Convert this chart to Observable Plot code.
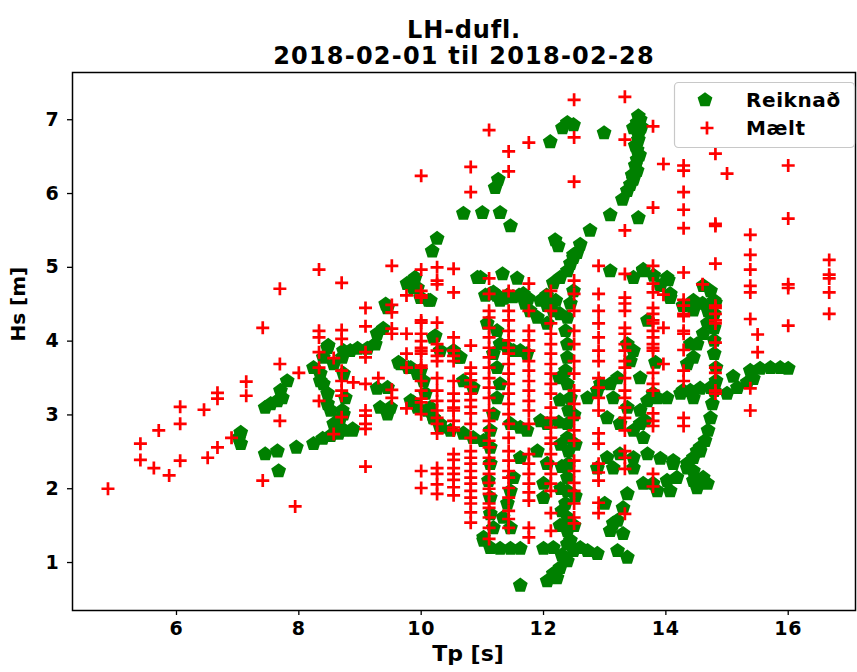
<!DOCTYPE html>
<html>
<head>
<meta charset="utf-8">
<script src="https://cdn.jsdelivr.net/npm/d3@7"></script>
<script src="https://cdn.jsdelivr.net/npm/@observablehq/plot@0.6"></script>
<style>
  html, body { margin: 0; padding: 0; background: #fff; }
  #chart svg { display: block; }
</style>
</head>
<body>
<div id="chart"></div>
<script>
// ---- Text ----
const titleLines = ["LH-dufl.", "2018-02-01 til 2018-02-28"];
const xLabel = "Tp [s]";
const yLabel = "Hs [m]";
const seriesNames = ["Reiknað", "Mælt"];
const xTicks = [6, 8, 10, 12, 14, 16];
const yTicks = [1, 2, 3, 4, 5, 6, 7];

// ---- Mælt (measured): Tp columns with their Hs values ----
const maeltColumns = [
  [4.88, [2.00]],
  [5.41, [2.61, 2.39]],
  [5.63, [2.28]],
  [5.71, [2.79]],
  [5.88, [2.18]],
  [6.06, [3.11, 2.88, 2.38]],
  [6.45, [3.07]],
  [6.51, [2.42]],
  [6.67, [3.30, 3.22, 2.56]],
  [6.90, [2.69]],
  [7.14, [3.26, 3.45]],
  [7.41, [4.18, 2.11]],
  [7.69, [4.71, 3.69, 2.92]],
  [7.94, [1.76]],
  [8.00, [3.57]],
  [8.33, [4.97, 4.14, 4.05, 3.85, 3.64, 3.19]],
  [8.57, [2.74, 3.77]],
  [8.70, [4.79, 4.15, 4.03, 3.60, 3.46, 3.33, 3.26, 2.97]],
  [8.89, [3.44]],
  [9.09, [4.45, 4.20, 3.85, 3.78, 3.42, 3.06, 2.99, 2.88, 2.81, 2.30]],
  [9.30, [3.50]],
  [9.52, [5.02, 4.49, 4.39, 4.17, 4.10, 3.34, 3.23]],
  [9.76, [4.62, 4.10, 3.83, 3.64, 3.09]],
  [10.00, [6.24, 4.97, 4.68, 4.62, 4.59, 4.28, 4.25, 4.10, 4.00, 3.91, 3.87, 3.83, 3.67, 3.64, 3.46, 3.33, 3.22, 3.17, 3.01, 2.24, 2.01]],
  [10.26, [5.00, 4.82, 4.77, 4.25, 3.96, 3.87, 3.80, 3.73, 3.50, 3.33, 3.19, 3.06, 2.96, 2.88, 2.75, 2.28, 2.20, 2.06, 1.93]],
  [10.53, [4.98, 4.66, 4.05, 3.87, 3.80, 3.73, 3.46, 3.29, 3.19, 3.10, 3.06, 2.92, 2.83, 2.79, 2.47, 2.39, 2.28, 2.20, 2.12, 2.02, 1.91]],
  [10.81, [6.36, 6.02, 3.94, 3.64, 3.56, 3.47, 3.38, 3.29, 3.20, 3.11, 3.02, 2.88, 2.69, 2.51, 2.42, 2.34, 2.24, 2.15, 2.07, 1.97, 1.88, 1.80, 1.68, 1.54]],
  [11.11, [6.86, 4.85, 4.64, 4.41, 4.32, 4.18, 4.05, 3.91, 3.78, 3.64, 3.50, 3.37, 3.23, 3.06, 2.92, 2.79, 2.65, 2.56, 2.42, 2.34, 2.20, 2.08, 2.00, 1.93, 1.80, 1.74, 1.61, 1.47, 1.32]],
  [11.43, [6.57, 6.30, 4.68, 4.41, 4.28, 4.14, 4.01, 3.91, 3.83, 3.69, 3.56, 3.42, 3.29, 3.15, 3.01, 2.88, 2.69, 2.51, 2.38, 2.24, 2.15, 2.01, 1.88, 1.70, 1.59, 1.47]],
  [11.76, [6.69, 4.78, 4.41, 4.14, 4.01, 3.87, 3.73, 3.60, 3.46, 3.33, 3.19, 3.06, 2.88, 2.47, 2.34, 2.20, 2.07, 1.95, 1.84, 1.47, 1.34]],
  [12.12, [4.68, 4.41, 4.24, 4.10, 3.96, 3.83, 3.69, 3.56, 3.42, 3.29, 3.10, 2.96, 2.83, 2.69, 2.61, 2.47, 2.34, 2.20, 2.07, 1.97, 1.67, 1.43]],
  [12.50, [7.27, 6.76, 6.16, 4.82, 4.64, 4.41, 4.14, 3.96, 3.73, 3.56, 3.33, 3.15, 2.96, 2.79, 2.65, 2.38, 2.24, 2.08, 1.97, 1.80, 1.61, 1.53]],
  [12.90, [5.02, 4.64, 4.41, 4.24, 4.05, 3.87, 3.73, 3.50, 3.37, 3.23, 3.06, 2.75, 2.61, 2.34, 2.22, 2.11, 1.81, 1.67]],
  [13.33, [7.31, 6.73, 5.50, 4.91, 4.59, 4.51, 4.41, 4.18, 4.10, 3.96, 3.87, 3.73, 3.64, 3.50, 3.33, 3.23, 3.10, 2.96, 2.79, 2.51, 2.42, 2.27, 1.66]],
  [13.79, [6.91, 5.81, 5.02, 4.78, 4.66, 4.45, 4.37, 4.28, 4.24, 4.14, 4.05, 3.96, 3.91, 3.87, 3.57, 3.42, 3.33, 3.02, 2.92, 2.85, 2.20, 2.03]],
  [13.96, [6.40, 4.63, 4.18, 3.69]],
  [14.29, [6.38, 6.31, 6.02, 5.78, 5.53, 4.93, 4.56, 4.48, 4.37, 4.34, 4.14, 4.10, 3.88, 3.60, 3.46, 2.96, 2.85]],
  [14.60, [4.77]],
  [14.81, [6.54, 5.59, 5.56, 5.05, 4.48, 4.45, 4.37, 4.28, 4.24, 3.98, 3.64, 3.57, 3.33, 3.29]],
  [15.00, [6.27]],
  [15.38, [5.44, 5.17, 4.97, 4.75, 4.66, 4.30, 3.36, 3.06]],
  [15.50, [4.09, 3.85]],
  [16.00, [6.38, 5.66, 4.77, 4.72, 4.21]],
  [16.67, [5.10, 4.90, 4.85, 4.66, 4.37]]
];

// ---- Reiknað (computed): [Tp, Hs] ----
const reiknadPoints = [
  [7.05,2.76],[7.05,2.61],[7.02,2.69],[7.45,2.47],[7.65,2.51],[7.67,2.24],[7.96,2.56],
  [8.24,2.61],[8.39,2.68],[8.52,2.72],[8.65,2.75],[8.73,2.79],[8.88,2.79],[8.60,2.88],[8.68,2.96],[8.71,3.06],
  [7.45,3.10],[7.54,3.15],[7.65,3.19],[7.73,3.23],[7.70,3.33],[7.81,3.46],
  [8.47,3.91],[8.40,3.78],[8.24,3.64],[8.35,3.56],[8.40,3.42],[8.47,3.29],[8.47,3.15],[8.52,3.06],
  [8.57,3.69],[8.73,3.87],[8.84,3.87],[8.96,3.90],[8.73,3.56],[8.76,3.23],[8.48,3.94],[8.35,3.46],
  [8.71,3.78],[9.12,3.90],[9.25,3.96],[9.28,4.10],[9.38,4.17],[9.42,4.50],[9.45,4.45],[9.90,4.86],[9.94,4.72],
  [10.12,4.55],[10.18,5.22],[10.26,5.39],[10.69,5.73],[10.92,4.86],[10.23,4.07],
  [9.63,3.71],[9.79,3.64],[9.94,3.56],[10.04,3.46],[9.28,3.36],[9.45,3.37],[9.33,3.10],[9.50,3.10],
  [9.45,3.01],[9.87,3.17],[8.57,2.88],[8.73,3.01],[8.71,2.81],[8.88,2.81],
  [10.07,3.29],[10.15,3.10],[10.20,2.96],[10.31,2.83],[10.64,3.78],[10.69,3.46],[10.85,3.37],
  [12.39,6.96],[12.31,6.89],[12.49,6.93],[12.11,6.70],[12.99,6.82],
  [13.55,7.05],[13.53,6.96],[13.55,6.86],[13.47,6.89],[13.55,6.80],[13.55,6.73],[13.53,6.59],[13.53,6.46],
  [13.50,6.38],[13.53,6.31],[13.47,6.19],[13.37,6.04],[13.29,5.92],[13.09,5.71],[12.76,5.50],[12.60,5.31],
  [12.49,5.17],[13.55,5.67],[12.19,5.37],[12.24,5.29],[13.58,7.00],[13.60,6.90],[13.50,6.65],[13.57,6.52],
  [13.45,6.25],[13.42,6.12],
  [11.26,6.19],[11.21,6.08],[11.00,5.74],[11.29,5.74],[11.46,5.56],
  [9.87,4.72],[10.15,4.55],[10.20,4.05],[10.31,3.87],[10.53,3.87],[10.61,3.78],[10.97,4.86],[11.33,4.91],
  [11.57,4.85],[11.13,4.64],[11.24,4.62],[11.29,4.55],[11.41,4.62],[11.67,4.64],[11.70,4.51],[11.95,4.55],
  [12.06,4.48],[12.16,4.41],[12.27,4.37],[12.16,4.79],[12.27,4.86],[12.39,4.95],[12.44,5.05],[12.49,5.13],[12.55,5.20],
  [11.05,4.62],[11.18,4.66],[11.35,4.58],[11.50,4.60],[11.60,4.62],[11.75,4.58],[12.05,4.62],[12.20,4.55],
  [12.49,4.68],[12.44,4.51],[12.39,4.32],[12.36,4.14],[12.39,3.96],[12.39,3.78],[12.36,3.60],[12.39,3.42],
  [12.44,3.23],[12.41,3.06],[12.39,2.88],[12.39,2.69],[12.41,2.51],[12.41,2.34],[12.39,2.15],[12.39,1.97],
  [12.36,1.80],[12.39,1.61],[12.39,1.43],[12.39,1.25],
  [12.26,3.50],[12.27,3.20],[12.25,2.90],[12.28,2.60],[12.30,2.30],[12.28,2.00],[12.30,1.70],[12.27,1.50],
  [12.30,1.10],[12.52,1.90],[12.50,1.50],[12.52,2.60],[12.50,3.00],
  [12.44,1.30],[12.49,1.16],[12.39,1.02],[12.27,0.93],[12.16,0.85],[12.06,0.75],[12.22,0.79],[12.60,1.20],
  [12.72,1.16],[12.88,1.12],[11.62,0.69],[11.02,1.30],[11.13,1.20],[11.29,1.19],[11.46,1.19],[11.62,1.19],
  [12.00,1.19],[12.16,1.20],[13.21,1.16],[13.37,1.07],[13.09,1.43],[13.21,1.57],[13.30,1.74],[13.37,1.93],
  [12.88,2.28],[13.04,2.42],[13.25,2.47],[13.47,2.42],[13.70,2.47],[13.91,2.41],[14.12,2.38],[14.35,2.28],
  [14.51,2.51],[13.14,2.28],[13.47,2.28],[13.79,2.07],[14.02,2.11],[14.45,2.11],
  [13.09,4.95],[13.47,4.86],[13.63,4.95],[14.02,4.86],[14.07,4.64],[13.70,4.28],
  [13.37,3.96],[13.47,3.87],[13.42,3.73],[13.21,3.50],[13.09,3.42],[12.93,3.42],[12.88,3.33],[12.72,3.23],
  [13.14,3.23],[13.37,3.10],[13.58,3.06],[13.79,3.29],[14.02,3.23],[14.28,3.33],[14.45,3.23],
  [13.04,2.96],[13.25,2.88],[13.47,2.79],[13.63,2.69],[13.00,1.80],[13.14,1.53],[13.30,1.39],
  [9.83,3.19],[9.94,3.10],[10.10,3.06],[10.20,2.96],[10.31,2.88],[10.48,2.79],[10.69,2.75],[10.85,2.69],[11.02,2.65],
  [11.08,4.24],[11.24,4.14],[11.29,3.96],[11.18,3.83],[11.24,3.64],[11.29,3.42],[11.24,3.23],[11.18,3.01],
  [11.13,2.79],[11.13,2.56],[11.13,2.34],[11.10,2.11],[11.13,1.88],[11.13,1.66],[11.18,1.47],[11.02,1.34],
  [11.41,3.91],[11.51,3.87],[11.62,3.87],[11.73,3.83],[11.46,2.88],[11.62,2.83],[11.73,2.79],[11.95,2.92],[12.06,2.88],
  [11.78,4.41],[11.90,4.32],[12.06,4.24],[11.62,2.42],[11.51,2.15],[11.46,1.97],[11.41,1.80],[11.34,1.61],[11.46,1.47],
  [11.90,2.51],[12.06,2.34],[12.00,2.07],[12.00,1.88],[9.77,4.78],[9.99,4.59],[9.66,3.69],[9.83,3.64],[9.99,3.60],
  [14.40,3.96],[14.45,3.78],[14.35,3.69],
  [14.79,4.55],[14.79,4.37],[14.79,4.18],[14.79,4.01],[14.79,3.83],[14.82,3.64],[14.82,3.46],[14.79,3.33],
  [14.76,3.15],[14.73,2.96],[14.69,2.79],[14.64,2.65],[14.56,2.51],[14.45,2.42],[14.35,2.34],
  [15.00,3.29],[15.17,3.37],[15.33,3.44],[15.43,3.49],[15.38,3.60],[15.54,3.63],[15.71,3.64],[15.87,3.64],
  [16.00,3.63],[15.10,3.52],
  [14.24,3.29],[14.40,3.33],[14.56,3.36],[14.73,3.37],[13.70,3.19],[13.86,3.23],
  [14.51,3.96],[14.61,4.10],[14.68,4.24],[14.69,4.41],[14.60,4.51],[14.45,4.55],[14.73,4.68],
  [14.12,2.34],[14.18,2.15],[14.07,1.97],[13.86,1.97],[13.63,2.07],
  [14.45,2.24],[14.61,2.15],[14.68,2.07],[14.51,2.01],[14.56,2.56],
  [14.07,4.59],[13.58,3.50],[13.58,2.88],[13.66,2.92],[13.83,3.71],
  [13.63,4.97],[13.80,4.89],[13.91,4.75],[14.07,4.63],[14.04,4.83],[14.28,4.48],[14.61,4.75],[14.81,4.52],[14.45,4.42]
];

// ---- Build tables ----
const reiknad = reiknadPoints.map(([tp, hs]) => ({tp, hs}));
const maelt = maeltColumns.flatMap(([tp, list]) => list.map(hs => ({tp, hs})));

// ---- Custom symbols ----
const pentagon = {
  draw(context, size) {
    const r = Math.sqrt(size / Math.PI);
    for (let k = 0; k < 5; ++k) {
      const a = -Math.PI / 2 + k * 2 * Math.PI / 5;
      const x = r * Math.cos(a), y = r * Math.sin(a);
      if (k === 0) context.moveTo(x, y); else context.lineTo(x, y);
    }
    context.closePath();
  }
};
const plusSym = {
  draw(context, size) {
    const r = Math.sqrt(size / Math.PI);
    context.moveTo(-r, 0); context.lineTo(r, 0);
    context.moveTo(0, -r); context.lineTo(0, r);
  }
};

const FONT = "'DejaVu Sans', 'Liberation Sans', sans-serif";
const GREEN = "#008000", RED = "#ff0000";

const chart = Plot.plot({
  width: 857,
  height: 672,
  marginLeft: 72,
  marginRight: 2,
  marginTop: 72,
  marginBottom: 62,
  style: {fontFamily: FONT, fontWeight: "bold", background: "#fff", color: "#000", overflow: "visible"},
  x: {domain: [4.3, 17.1]},
  y: {domain: [0.35, 7.64]},
  marks: [
    Plot.dot(reiknad, {x: "tp", y: "hs", symbol: pentagon, r: 7.8, fill: GREEN, stroke: "none"}),
    Plot.dot(maelt, {x: "tp", y: "hs", symbol: plusSym, r: 6.5, fill: "none", stroke: RED, strokeWidth: 2.7}),
    Plot.frame({stroke: "#000", strokeWidth: 1.5}),
    Plot.axisX({ticks: xTicks, tickSize: 5, tickPadding: 6, label: null, fontSize: 19, fontWeight: "bold", strokeWidth: 1.3}),
    Plot.axisY({ticks: yTicks, tickSize: 5, tickPadding: 8, label: null, fontSize: 19, fontWeight: "bold", strokeWidth: 1.3}),
    Plot.text([xLabel], {frameAnchor: "bottom", dy: 50, dx: 4, fontSize: 22, fontWeight: "bold", text: d => d}),
    Plot.text([yLabel], {frameAnchor: "left", dx: -54, rotate: -90, fontSize: 20, fontWeight: "bold", text: d => d}),
    Plot.text([titleLines[0]], {frameAnchor: "top", dy: -52, fontSize: 24, fontWeight: "bold", text: d => d}),
    Plot.text([titleLines[1]], {frameAnchor: "top", dy: -26, fontSize: 24, fontWeight: "bold", text: d => d})
  ]
});

// letter-spacing for horizontal texts (reference text is slightly wider)
d3.select(chart).selectAll("g[aria-label='x-axis tick label'] text, g[aria-label='y-axis tick label'] text")
  .attr("letter-spacing", 0.8);
d3.select(chart).selectAll("g[aria-label='text'] text").each(function() {
  const t = d3.select(this).text();
  if (t === titleLines[1]) d3.select(this).attr("letter-spacing", 1.2);
  if (t === titleLines[0]) d3.select(this).attr("letter-spacing", 0.8);
});

// ---- Legend (drawn into the plot's SVG) ----
const svg = d3.select(chart);
const lg = svg.append("g").attr("class", "legend");
lg.append("rect").attr("x", 674.5).attr("y", 82.5).attr("width", 180).attr("height", 65)
  .attr("rx", 4).attr("fill", "#fff").attr("fill-opacity", 0.85)
  .attr("stroke", "#c8c8c8").attr("stroke-width", 1.2);
const sym = d3.symbol();
lg.append("path").attr("transform", "translate(705,100)")
  .attr("d", sym.type(pentagon).size(Math.PI * 7.8 * 7.8)()).attr("fill", GREEN);
lg.append("path").attr("transform", "translate(707,128)")
  .attr("d", sym.type(plusSym).size(Math.PI * 6.5 * 6.5)()).attr("fill", "none").attr("stroke", RED).attr("stroke-width", 2.7);
seriesNames.forEach((name, i) => {
  lg.append("text").attr("x", 746).attr("y", 107 + i * 28)
    .attr("text-anchor", "start")
    .attr("font-size", 20).attr("font-weight", "bold").attr("font-family", FONT)
    .attr("letter-spacing", 0.6).attr("fill", "#000").text(name);
});

document.getElementById("chart").appendChild(chart);
</script>
</body>
</html>
